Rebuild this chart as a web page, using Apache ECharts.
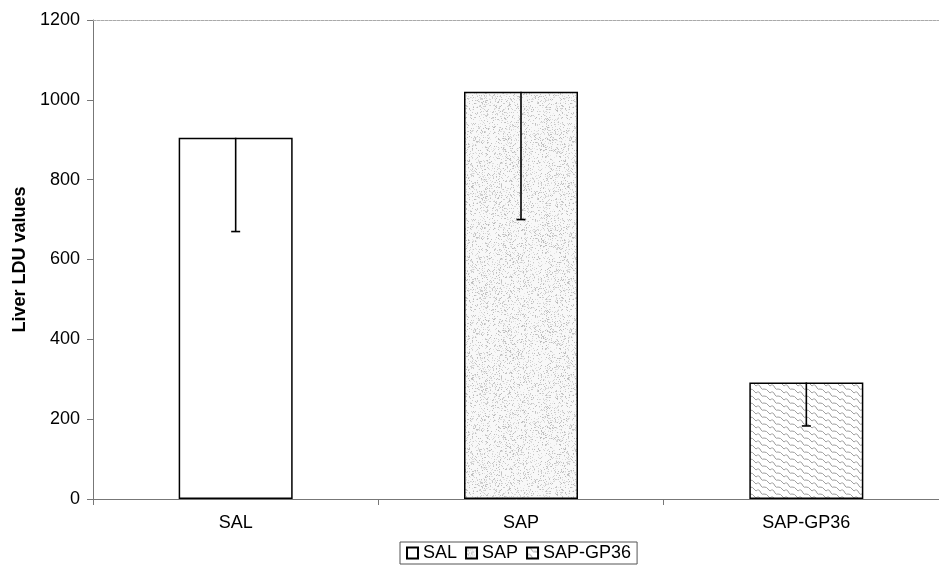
<!DOCTYPE html>
<html>
<head>
<meta charset="utf-8">
<script src="https://cdn.jsdelivr.net/npm/echarts@6/dist/echarts.min.js"></script>
<style>html,body{margin:0;padding:0;background:#fff}#c{width:939px;height:576px}</style>
</head>
<body>
<div id="c"></div>
<script>
var categories = ['SAL', 'SAP', 'SAP-GP36'];
var values = [905, 1020, 292];
var errLow = [670, 700, 183];
var yTicks = [0, 200, 400, 600, 800, 1000, 1200];

function lcg(seed){var s=seed;return function(){s=(s*1103515245+12345)%2147483648;return s/2147483648;};}
function stipple(){
  var c=document.createElement('canvas');c.width=96;c.height=96;var g=c.getContext('2d');
  g.fillStyle='#f8f8f8';g.fillRect(0,0,96,96);
  var r=lcg(7);
  for(var i=0;i<2200;i++){var x=Math.floor(r()*96),y=Math.floor(r()*96);var v=Math.floor(185+r()*50);g.fillStyle='rgb('+v+','+v+','+v+')';g.fillRect(x,y,1,1);}
  return c;
}
function waves(){
  var c=document.createElement('canvas');c.width=14;c.height=14;var g=c.getContext('2d');
  g.fillStyle='#ffffff';g.fillRect(0,0,14,14);
  g.strokeStyle='#a0a0a0';g.lineWidth=1;
  for(var k=-2;k<3;k++){
    var oy=k*7;
    g.beginPath();
    g.moveTo(0,oy+1);
    g.quadraticCurveTo(3,oy-2,5,oy+3);
    g.quadraticCurveTo(6,oy+5,8,oy+4);
    g.quadraticCurveTo(10,oy+3,14,oy+8);
    g.stroke();
  }
  return c;
}
var fills = ['#ffffff', {image: stipple(), repeat: 'repeat'}, {image: waves(), repeat: 'repeat'}];

var series = categories.map(function(name, i){
  var d = categories.map(function(_, j){ return j === i ? values[j] : '-'; });
  return {
    name: name, type: 'bar', data: d, barWidth: 114, barGap: '-100%',
    itemStyle: {color: fills[i], borderColor: '#000', borderWidth: 1.5},
    emphasis: {disabled: true}
  };
});
series.push({
  type: 'custom', name: 'err', silent: true,
  data: categories.map(function(c, i){ return [i, values[i], errLow[i]]; }),
  renderItem: function(params, api){
    var top = api.coord([api.value(0), api.value(1)]);
    var bot = api.coord([api.value(0), api.value(2)]);
    var st = {stroke: '#000', lineWidth: 1.6};
    return {type: 'group', children: [
      {type: 'line', shape: {x1: top[0], y1: top[1], x2: bot[0], y2: bot[1]}, style: st},
      {type: 'line', shape: {x1: bot[0]-4.5, y1: bot[1], x2: bot[0]+4.5, y2: bot[1]}, style: st}
    ]};
  },
  z: 5
});

var chart = echarts.init(document.getElementById('c'), null, {renderer: 'canvas'});
chart.setOption({
  animation: false,
  textStyle: {fontFamily: 'Liberation Sans, Arial, sans-serif'},
  grid: {left: 93, top: 20, right: -10, bottom: 77, outerBoundsMode: 'none', containLabel: false},
  legend: {
    data: categories, left: 400, top: 542,
    icon: 'rect', itemWidth: 11, itemHeight: 11, itemGap: 8,
    borderColor: '#555', borderWidth: 1, padding: [2, 6, 2, 6],
    textStyle: {fontSize: 18, color: '#000', fontFamily: 'Liberation Sans, Arial, sans-serif'}
  },
  xAxis: [{
    type: 'category', data: categories,
    axisLine: {lineStyle: {color: '#777', width: 1}},
    axisTick: {show: true, alignWithLabel: false, length: 6, lineStyle: {color: '#777'}},
    axisLabel: {fontSize: 18, color: '#000', margin: 15}
  }, {
    type: 'category', data: categories, position: 'top',
    axisLine: {show: true, lineStyle: {color: '#aaa', width: 1, type: [3, 1]}},
    axisTick: {show: false}, axisLabel: {show: false}
  }],
  yAxis: {
    type: 'value', min: 0, max: 1200, interval: 200,
    name: 'Liver LDU values', nameLocation: 'middle', nameGap: 64,
    nameTextStyle: {fontSize: 18, fontWeight: 'bold', color: '#000'},
    axisLine: {show: true, lineStyle: {color: '#777'}},
    axisTick: {show: true, length: 6, lineStyle: {color: '#777'}},
    axisLabel: {fontSize: 18, color: '#000', margin: 13, formatter: function(v){ return yTicks.indexOf(v) >= 0 ? String(v) : ''; }},
    splitLine: {show: false}
  },
  series: series
});
</script>
</body>
</html>
